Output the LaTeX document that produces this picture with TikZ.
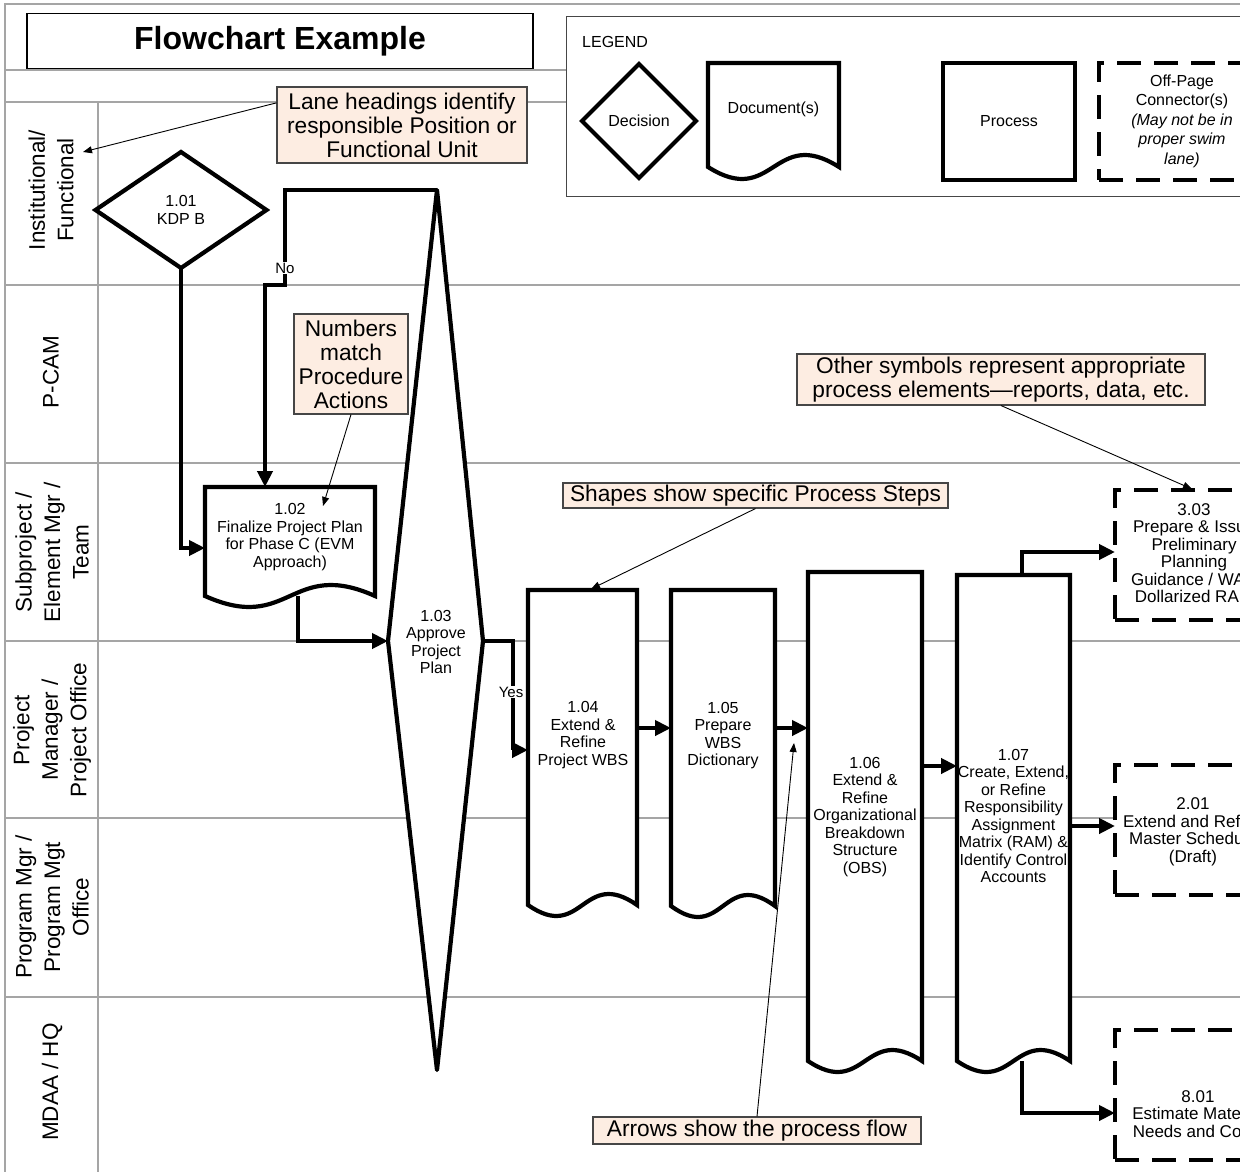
\documentclass[tikz,border=0pt]{standalone}
\usepackage{fontspec}
\setmainfont{Liberation Sans}
\usetikzlibrary{arrows.meta,calc,shapes.geometric}

\definecolor{calloutfill}{RGB}{253,237,226}
\definecolor{gridgrey}{RGB}{165,165,165}
\definecolor{framegrey}{RGB}{70,70,70}

\tikzset{
  gridline/.style={draw=gridgrey, line width=1.3pt},
  lanelabel/.style={rotate=90, align=center, inner sep=0pt, font=\fontsize{22.5}{28.5}\selectfont},
  stepfont/.style={font=\fontsize{16}{17.5}\selectfont},
  legendfont/.style={font=\fontsize{16}{19.5}\selectfont},
  steptext/.style={stepfont, align=center, inner sep=0pt},
  offtext/.style={font=\fontsize{17}{17.5}\selectfont, align=center, inner sep=0pt},
  heavy/.style={line width=4.2pt},
  docbox/.style={rectangle, draw=none, outer sep=0pt, inner sep=0pt},
  procbox/.style={rectangle, heavy, draw, fill=white, outer sep=0pt},
  decision/.style={diamond, heavy, draw, fill=white, inner sep=0pt, outer sep=0pt, stepfont, align=center},
  offpage/.style={rectangle, heavy, draw, fill=white, outer sep=0pt, dash pattern=on 24pt off 13pt},
  flow/.style={heavy, -{Triangle[length=16pt,width=15pt]}},
  callout/.style={draw=framegrey, fill=calloutfill, line width=1.1pt, align=center, inner sep=0pt,
                  font=\fontsize{22.7}{24}\selectfont},
  pointer/.style={line width=0.9pt, -{Triangle[length=9pt,width=7pt]}},
  flowlabel/.style={fill=white, inner sep=1pt, font=\fontsize{15}{16}\selectfont},
}

% document symbol: straight top and sides, wavy bottom edge
\newcommand\docoutline[2][11]{%
  \filldraw[heavy, fill=white] (#2.north west) -- (#2.north east) -- (#2.south east)
    .. controls ($(#2.south)+(0,-3.46*#1)$) and ($(#2.south)+(0,3.46*#1)$) .. (#2.south west) -- cycle;}

\begin{document}
\begin{tikzpicture}[x=1pt,y=-1pt]
\useasboundingbox (0,0) rectangle (1240,1172);
\clip (0,0) rectangle (1240,1172);
\fill[white] (0,0) rectangle (1240,1172);

% swim-lane grid
\draw[gridline] (5,1172) -- (5,4) -- (1240,4);
\draw[gridline] (5,70) -- (566,70) (5,102) -- (566,102);
\draw[gridline] (98,102) -- (98,1172);
\foreach \y in {285,463,641,818,997} \draw[gridline] (5,\y) -- (1240,\y);

% lane headings
\node[lanelabel] (lane1) at (51,190) {Institutional/\\Functional};
\node[lanelabel] (lane2) at (51,372) {P-CAM};
\node[lanelabel] (lane3) at (52,552) {Subproject /\\Element Mgr /\\Team};
\node[lanelabel] (lane4) at (52,730) {Project\\Manager /\\Project Office};
\node[lanelabel] (lane5) at (52,907) {Program Mgr /\\Program Mgt\\Office};
\node[lanelabel] (lane6) at (52,1082) {MDAA / HQ};

% title
\node[draw, line width=1.5pt, minimum width=506pt, minimum height=55pt, inner sep=0pt,
      font=\bfseries\fontsize{32}{36}\selectfont] (title) at (280,41) {Flowchart Example};

% legend
\node[draw=framegrey, line width=1.3pt, minimum width=720pt, minimum height=180pt, anchor=north west] (legend) at (566,16) {};
\node[anchor=west, legendfont, inner sep=0pt] (legendtitle) at (582,42) {LEGEND};
\node[decision, legendfont, minimum width=114pt, minimum height=114pt] (lgdec) at (639,121) {Decision};
\node[docbox, minimum width=131pt, minimum height=104pt] (lgdoc) at (773.5,115) {};
\docoutline[12]{lgdoc}
\node[legendfont, inner sep=0pt] (lgdoctext) at (773.5,109) {Document(s)};
\node[procbox, legendfont, minimum width=132pt, minimum height=117pt] (lgproc) at (1009,121.5) {Process};
\node[offpage, minimum width=166pt, minimum height=117pt] (lgoff) at (1182,121.5) {};
\node[legendfont, align=center, inner sep=0pt] (lgofftext) at (1182,121)
  {Off-Page\\Connector(s)\\\textit{(May not be in}\\\textit{proper swim}\\\textit{lane)}};

% process steps
\node[decision, minimum width=171pt, minimum height=116pt] (d101) at (181,210) {1.01\\KDP B};

\node[docbox, minimum width=170pt, minimum height=109pt] (n102) at (290,541.5) {};
\docoutline{n102}
\node[steptext] (t102) at (290,537) {1.02\\Finalize Project Plan\\for Phase C (EVM\\Approach)};

\coordinate (d103top) at (437,190);
\coordinate (d103right) at (483,641);
\coordinate (d103bot) at (437,1070);
\coordinate (d103left) at (388,641);
\filldraw[heavy, fill=white, line join=round] (d103top) -- (d103right) -- (d103bot) -- (d103left) -- cycle;
\node[steptext] (d103) at (436,642) {1.03\\Approve\\Project\\Plan};

\node[docbox, minimum width=109pt, minimum height=315pt] (n104) at (582.5,747.5) {};
\docoutline{n104}
\node[steptext] (t104) at (583,735) {1.04\\Extend \&\\Refine\\Project WBS};

\node[docbox, minimum width=104pt, minimum height=316pt] (n105) at (723,748) {};
\docoutline{n105}
\node[steptext] (t105) at (723,735.5) {1.05\\Prepare\\WBS\\Dictionary};

\node[docbox, minimum width=114pt, minimum height=489pt] (n106) at (865,816.5) {};
\docoutline{n106}
\node[steptext] (t106) at (865,817) {1.06\\Extend \&\\Refine\\Organizational\\Breakdown\\Structure\\(OBS)};

\node[docbox, minimum width=113pt, minimum height=486pt] (n107) at (1013.5,818) {};
\docoutline{n107}
\node[steptext] (t107) at (1013.5,816) {1.07\\Create, Extend,\\or Refine\\Responsibility\\Assignment\\Matrix (RAM) \&\\Identify Control\\Accounts};

% off-page connectors
\node[offpage, minimum width=160pt, minimum height=130pt] (o303) at (1195,555) {};
\node[offtext] (t303) at (1194,553) {3.03\\Prepare \& Issue\\Preliminary\\Planning\\Guidance / WAD\\Dollarized RAM};
\node[offpage, minimum width=160pt, minimum height=130pt] (o201) at (1195,830) {};
\node[offtext] (t201) at (1193,832) {2.01\\Extend and Refine\\Master Schedule\\(Draft)};
\node[offpage, minimum width=160pt, minimum height=130pt] (o801) at (1195,1095) {};
\node[offtext] (t801) at (1198,1114) {8.01\\Estimate Material\\Needs and Costs};

% flow connectors
\coordinate (nojog) at (285,285);
\coordinate (nojog2) at (265,285);
\coordinate (yesjog) at (513,750);
\coordinate (r548) at (0,548);
\coordinate (r728) at (0,728);
\coordinate (r766) at (0,766);
\coordinate (r552) at (0,552);
\coordinate (r826) at (0,826);
\coordinate (r1113) at (0,1113);

\draw[flow] (d101.south) |- (n102.west |- r548);
\draw[flow] (d103top) -| (nojog) -- (nojog2) -- (nojog2 |- n102.north);
\draw[flow] ([xshift=8pt]n102.south) |- (d103left);
\draw[flow] (d103right) -| (yesjog) -- (yesjog -| n104.west);
\draw[flow] (n104.east |- r728) -- (n105.west |- r728);
\draw[flow] (n105.east |- r728) -- (n106.west |- r728);
\draw[flow] (n106.east |- r766) -- (n107.west |- r766);
\draw[flow] ([xshift=8.5pt]n107.north) |- (o303.west |- r552);
\draw[flow] (n107.east |- r826) -- (o201.west |- r826);
\draw[flow] ([xshift=8.5pt]n107.south) |- (o801.west |- r1113);

\node[flowlabel] (nolabel) at (285,268) {No};
\node[flowlabel] (yeslabel) at (511,692) {Yes};

% explanatory callouts
\node[callout, minimum width=250pt, minimum height=76pt] (c1) at (402,125)
  {Lane headings identify\\responsible Position or\\Functional Unit};
\node[callout, minimum width=114pt, minimum height=100pt] (c2) at (351,364)
  {Numbers\\match\\Procedure\\Actions};
\node[callout, minimum width=385pt, minimum height=25pt] (c3) at (755.5,495.5)
  {Shapes show specific Process Steps};
\node[callout, minimum width=408pt, minimum height=51pt] (c4) at (1001,379.5)
  {Other symbols represent appropriate\\process elements---reports, data, etc.};
\node[callout, minimum width=328pt, minimum height=27pt] (c5) at (757,1130.5)
  {Arrows show the process flow};

\coordinate (p1) at (83,152);
\coordinate (p2) at (323,506);
\coordinate (p3) at (591,589);
\coordinate (p4) at (1192,489);
\coordinate (p5) at (794,743);
\draw[pointer] (c1.170) -- (p1);
\draw[pointer] (c2.south) -- (p2);
\draw[pointer] (c3.south) -- (p3);
\draw[pointer] (c4.south) -- (p4);
\draw[pointer] (c5.north) -- (p5);
\end{tikzpicture}
\end{document}
